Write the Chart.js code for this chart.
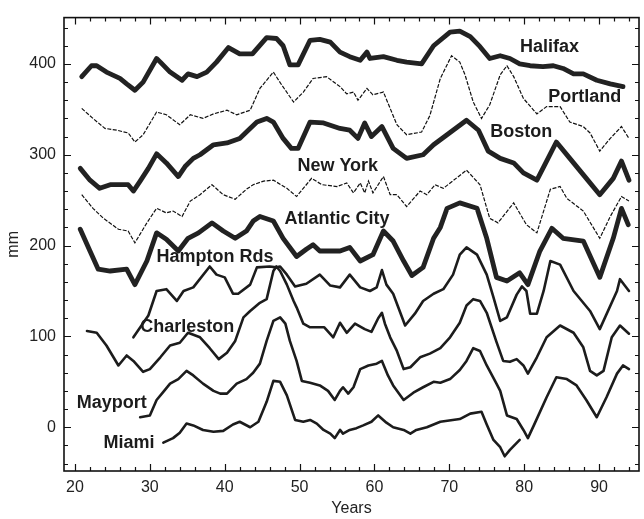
<!DOCTYPE html>
<html>
<head>
<meta charset="utf-8">
<script src="https://cdn.jsdelivr.net/npm/chart.js@4.4.0/dist/chart.umd.min.js"></script>
<style>
  html, body { margin: 0; padding: 0; background: #fff; }
  #wrap { position: relative; width: 644px; height: 519px; }
</style>
</head>
<body>
<div id="wrap"><canvas id="chart" width="644" height="519"></canvas></div>
<script>
// station records, [year, mm] (stations stacked with offsets)
const halifax = [[20.9,386],[22.2,398],[22.9,398],[24.2,391],[26,384],[26.9,378],[28,371],[29.1,380],[30.9,406],[31.4,402],[32.7,391],[34.3,382],[35.1,389],[36.3,386],[37.6,391],[38.9,402],[40.5,418],[42,411],[43.7,411],[45.6,429],[46.9,428],[47.8,420],[48.7,399],[49.8,399],[51.4,426],[52.7,427],[54.1,424],[55.4,413],[56.7,408],[58.1,404],[59,413],[59.4,406],[61.2,408],[63,404],[64.3,402],[66.3,400],[67.9,420],[70.1,435],[71.4,436],[72.8,430],[74.1,419],[75.4,406],[76.8,409],[78.1,406],[79.4,400],[80.8,398],[82.5,397],[83.9,398],[85.2,395],[86.6,389],[87.9,389],[89.7,382],[91.5,378],[93.2,375]];
const portland = [[20.9,351],[22.4,340],[24,329],[25.6,327],[27.1,324],[28,314],[29.1,322],[30.9,347],[32.2,344],[34,333],[35.4,344],[37.1,340],[38.5,345],[40.3,349],[41.6,344],[43.4,349],[44.7,373],[46.5,391],[47.6,377],[49.2,358],[50.5,369],[51.8,384],[53.6,386],[55.4,375],[56.3,367],[57.2,369],[57.8,360],[59,373],[59.8,366],[61.2,369],[63,333],[64.3,322],[66.3,325],[67.4,343],[68.8,384],[70.3,409],[71.4,402],[72.1,388],[73.2,358],[74.3,340],[75.4,355],[76.8,388],[77.7,398],[78.6,386],[79.9,362],[81.7,345],[83,353],[84.8,353],[86.1,336],[87.9,331],[88.8,324],[90.1,304],[91.5,318],[93,331],[94,318]];
const boston = [[20.7,285],[22,272],[23.3,263],[24.7,267],[26,267],[27.1,267],[27.8,260],[28.7,271],[29.8,285],[30.9,301],[32.2,291],[33.8,276],[34.7,287],[35.8,296],[36.7,300],[38.5,311],[40.3,313],[42,318],[42.9,325],[44.3,336],[45.6,340],[46.5,336],[47.8,318],[48.9,307],[49.8,307],[51.4,336],[53.2,335],[55.4,329],[56.7,327],[57.8,318],[58.7,335],[59.6,320],[61,331],[62.5,307],[64.3,296],[66.5,300],[67.9,311],[69.7,322],[72.3,338],[73.9,327],[75.2,304],[76.8,296],[78.6,291],[79.9,280],[81.7,272],[83,293],[84.3,314],[86.1,296],[88.3,274],[90.1,256],[91.9,274],[93,293],[94,272]];
const newYork = [[20.9,256],[22.4,241],[23.8,230],[25.8,218],[27.1,216],[28,203],[29.6,225],[30.9,241],[32.2,236],[33.1,238],[34.3,232],[35.4,249],[36.7,256],[38.3,267],[39.8,256],[41.4,251],[42.9,262],[43.8,267],[45.2,271],[46.5,272],[48.3,263],[49.6,254],[51.6,274],[53,267],[55,265],[56.3,269],[57.2,258],[58.1,269],[58.7,258],[59.2,271],[59.8,258],[61.2,276],[62.1,256],[63,256],[64.3,243],[66.1,260],[67,256],[68.1,267],[69.2,263],[72.3,283],[74.1,267],[75.4,230],[76.5,225],[78.6,247],[80.3,223],[81.7,214],[83.5,262],[84.8,265],[85.7,252],[87.9,238],[90.1,208],[91.5,232],[93,254],[94,249]];
const atlanticCity = [[20.7,218],[22,194],[23.1,174],[24.7,172],[26.9,174],[28,157],[29.6,183],[30.9,214],[32.2,207],[33.8,194],[35.1,208],[36.5,214],[38.3,225],[39.8,216],[41.4,208],[42.9,216],[43.8,227],[44.7,232],[46.5,227],[47.8,208],[49.6,188],[50.9,196],[51.8,201],[52.7,194],[55.4,194],[56.7,198],[58.1,183],[59.8,190],[61.2,216],[62.5,205],[63.9,183],[65,167],[66.5,176],[67.9,208],[68.8,220],[69.7,241],[71.4,247],[73.7,241],[75,208],[76.3,165],[77.7,161],[79.4,170],[80.5,157],[82.1,194],[83.7,219],[85.2,208],[87.9,205],[90.1,165],[91.9,208],[93,241],[93.9,223]];
const hamptonRds = [[27.8,99],[29.8,123],[30.9,150],[32.2,152],[33.6,139],[34.5,150],[35.8,154],[38,177],[38.9,168],[40,165],[41.1,147],[41.8,147],[43.4,157],[44.3,176],[46,177],[46.9,176],[47.4,177],[48.3,168],[49.4,155],[50.9,158],[52.7,168],[54.1,156],[55.4,154],[56.7,168],[58.1,154],[59.4,150],[60.3,154],[61,173],[61.6,157],[62.5,147],[64.1,112],[65.4,125],[66.5,139],[67.9,147],[69.2,152],[70.5,168],[71.4,190],[72.3,198],[73.7,190],[75,168],[75.9,143],[76.8,117],[77.7,121],[79,146],[79.7,155],[80.3,150],[80.8,125],[81.7,125],[82.6,150],[83.5,183],[84.8,179],[86.6,150],[88.8,128],[90.1,108],[92.4,150],[92.8,163],[94,150]];
const charleston = [[21.6,106],[22.9,104],[24.2,90],[25.8,68],[26.9,79],[27.8,73],[29.1,61],[30,64],[31.4,77],[32.7,90],[34,93],[35.1,104],[36.7,99],[38,87],[39.2,75],[40.3,82],[41.4,95],[42.5,121],[43.4,128],[44.7,137],[45.6,141],[46.5,172],[46.9,177],[47.4,172],[48.3,157],[49.2,139],[49.6,132],[50.5,114],[51.4,110],[53.3,110],[54.5,99],[55.4,115],[56.3,104],[57.4,114],[58.7,108],[59.6,105],[60.5,120],[61,126],[61.4,114],[62.1,99],[63,84],[63.9,64],[64.8,66],[66.1,77],[67.4,81],[68.8,87],[70.1,99],[71.4,115],[72.3,134],[73.2,141],[74.1,139],[75,126],[76.3,94],[77.2,73],[78.1,72],[79,75],[79.9,68],[80.5,59],[81.7,77],[83,99],[84.8,112],[86.6,104],[87.9,88],[88.8,62],[89.7,57],[90.6,62],[91.7,99],[92.8,112],[94,103]];
const mayport = [[28.7,11],[30,13],[30.9,30],[31.8,39],[32.7,48],[33.8,53],[34.9,62],[35.8,57],[37.1,48],[38.5,40],[39.4,37],[40.3,37],[41.6,48],[42.9,53],[43.8,60],[44.7,70],[45.6,95],[46.5,117],[47.4,121],[48.1,114],[48.7,95],[49.6,73],[50.3,51],[51.4,49],[52.7,46],[53.8,40],[54.7,30],[55.4,40],[55.8,44],[56.5,37],[57.2,44],[58.1,64],[59.2,68],[60.3,70],[61,73],[61.8,57],[62.5,46],[63.9,30],[65.2,38],[66.5,44],[67.9,50],[68.8,49],[70.1,53],[71.4,63],[72.3,73],[73.2,87],[74.1,84],[75,68],[76.3,48],[76.8,40],[77.7,13],[79,9],[79.9,-3],[80.5,-12],[81.4,4],[83,33],[84.3,55],[85.7,53],[87,46],[88.3,30],[89.7,11],[91,33],[92.4,59],[93.2,68],[94,64]];
const miami = [[31.8,-17],[33.1,-12],[34,-6],[34.9,4],[35.8,2],[37.1,-3],[38.5,-5],[39.8,-4],[41.1,3],[42,6],[43.4,0],[44.5,6],[45.6,28],[46.5,51],[47.4,50],[48.3,35],[49.4,8],[50.5,6],[51.4,8],[52.3,4],[53.2,-3],[54.1,-7],[54.7,-12],[55.4,-3],[55.8,-7],[56.7,-3],[57.6,-1],[58.5,2],[59.6,6],[60.5,13],[61.6,5],[62.5,0],[63.9,-3],[64.8,-7],[65.6,-3],[67,0],[68.8,6],[71.4,9],[72.8,15],[74.3,17],[75,3],[75.9,-14],[76.8,-22],[77.4,-32],[78.1,-25],[79.4,-14]];

const xTicks = [20, 30, 40, 50, 60, 70, 80, 90];
const yTicks = [0, 100, 200, 300, 400];

// where each station name sits, in data units
const stationLabels = [
  { text: 'Halifax', year: 83.4, mm: 419 },
  { text: 'Portland', year: 88.1, mm: 363 },
  { text: 'Boston', year: 79.6, mm: 325 },
  { text: 'New York', year: 55.1, mm: 288 },
  { text: 'Atlantic City', year: 55.0, mm: 229 },
  { text: 'Hampton Rds', year: 38.7, mm: 187 },
  { text: 'Charleston', year: 35.0, mm: 110 },
  { text: 'Mayport', year: 24.9, mm: 27 },
  { text: 'Miami', year: 27.2, mm: -17 }
];

const INK = '#1c1c1c';
const FONT = 'Liberation Sans, Arial, sans-serif';

function thick(label, data) {
  return { label, data, borderColor: '#222', borderWidth: 4.8, pointRadius: 0, tension: 0,
           borderJoinStyle: 'round', borderCapStyle: 'round' };
}
function medium(label, data) {
  return { label, data, borderColor: INK, borderWidth: 2.6, pointRadius: 0, tension: 0,
           borderJoinStyle: 'round', borderCapStyle: 'round' };
}
function thin(label, data) {
  return { label, data, borderColor: '#111', borderWidth: 1.2, borderDash: [4, 1.5], pointRadius: 0, tension: 0 };
}

// frame with inward ticks on all four sides, plus station names
const frameAndNames = {
  id: 'frameAndNames',
  afterDatasetsDraw(chart) {
    const { ctx, scales: { x, y } } = chart;
    ctx.save();
    ctx.font = 'bold 18px ' + FONT;
    ctx.fillStyle = INK;
    ctx.textAlign = 'center';
    ctx.textBaseline = 'middle';
    stationLabels.forEach(l => ctx.fillText(l.text, x.getPixelForValue(l.year), y.getPixelForValue(l.mm)));
    ctx.restore();
  },
  afterDraw(chart) {
    const { ctx, chartArea: a, scales: { x, y } } = chart;
    ctx.save();
    ctx.strokeStyle = '#111';
    ctx.lineWidth = 1.6;
    ctx.strokeRect(a.left, a.top, a.right - a.left, a.bottom - a.top);
    ctx.lineWidth = 1.2;
    ctx.beginPath();
    for (let v = 20; v <= x.max; v += 2) {
      const px = Math.round(x.getPixelForValue(v)) + 0.5;
      const len = v % 10 === 0 ? 7 : 4;
      ctx.moveTo(px, a.bottom); ctx.lineTo(px, a.bottom - len);
      ctx.moveTo(px, a.top); ctx.lineTo(px, a.top + len);
    }
    for (let v = -40; v <= y.max; v += 20) {
      const py = Math.round(y.getPixelForValue(v)) + 0.5;
      const len = v % 100 === 0 ? 7 : 4;
      ctx.moveTo(a.left, py); ctx.lineTo(a.left + len, py);
      ctx.moveTo(a.right, py); ctx.lineTo(a.right - len, py);
    }
    ctx.stroke();
    ctx.restore();
  }
};

new Chart(document.getElementById('chart'), {
  type: 'line',
  data: {
    datasets: [
      thick('Halifax', halifax),
      thin('Portland', portland),
      thick('Boston', boston),
      thin('New York', newYork),
      thick('Atlantic City', atlanticCity),
      medium('Hampton Rds', hamptonRds),
      medium('Charleston', charleston),
      medium('Mayport', mayport),
      medium('Miami', miami)
    ]
  },
  options: {
    responsive: false,
    devicePixelRatio: 1,
    animation: false,
    layout: { padding: { top: 15, right: 5, left: 0, bottom: 0 } },
    plugins: { legend: { display: false }, tooltip: { enabled: false } },
    scales: {
      x: {
        type: 'linear',
        min: 18.53,
        max: 95.34,
        afterBuildTicks: s => { s.ticks = xTicks.map(v => ({ value: v })); },
        afterFit: s => { s.height = 48; },
        grid: { display: false, drawTicks: false },
        border: { display: false },
        ticks: { color: '#222', font: { family: FONT, size: 16 }, padding: 7, maxRotation: 0, autoSkip: false },
        title: { display: true, text: 'Years', color: '#222', font: { family: FONT, size: 16 }, padding: { top: 0, bottom: 1 } }
      },
      y: {
        type: 'linear',
        min: -48.2,
        max: 451,
        afterBuildTicks: s => { s.ticks = yTicks.map(v => ({ value: v })); },
        afterFit: s => { s.width = 64; },
        grid: { display: false, drawTicks: false },
        border: { display: false },
        ticks: { color: '#222', font: { family: FONT, size: 16 }, padding: 8 },
        title: { display: true, text: 'mm', color: '#222', font: { family: FONT, size: 16 }, padding: { top: 4, bottom: 0 } }
      }
    }
  },
  plugins: [frameAndNames]
});
</script>
</body>
</html>
